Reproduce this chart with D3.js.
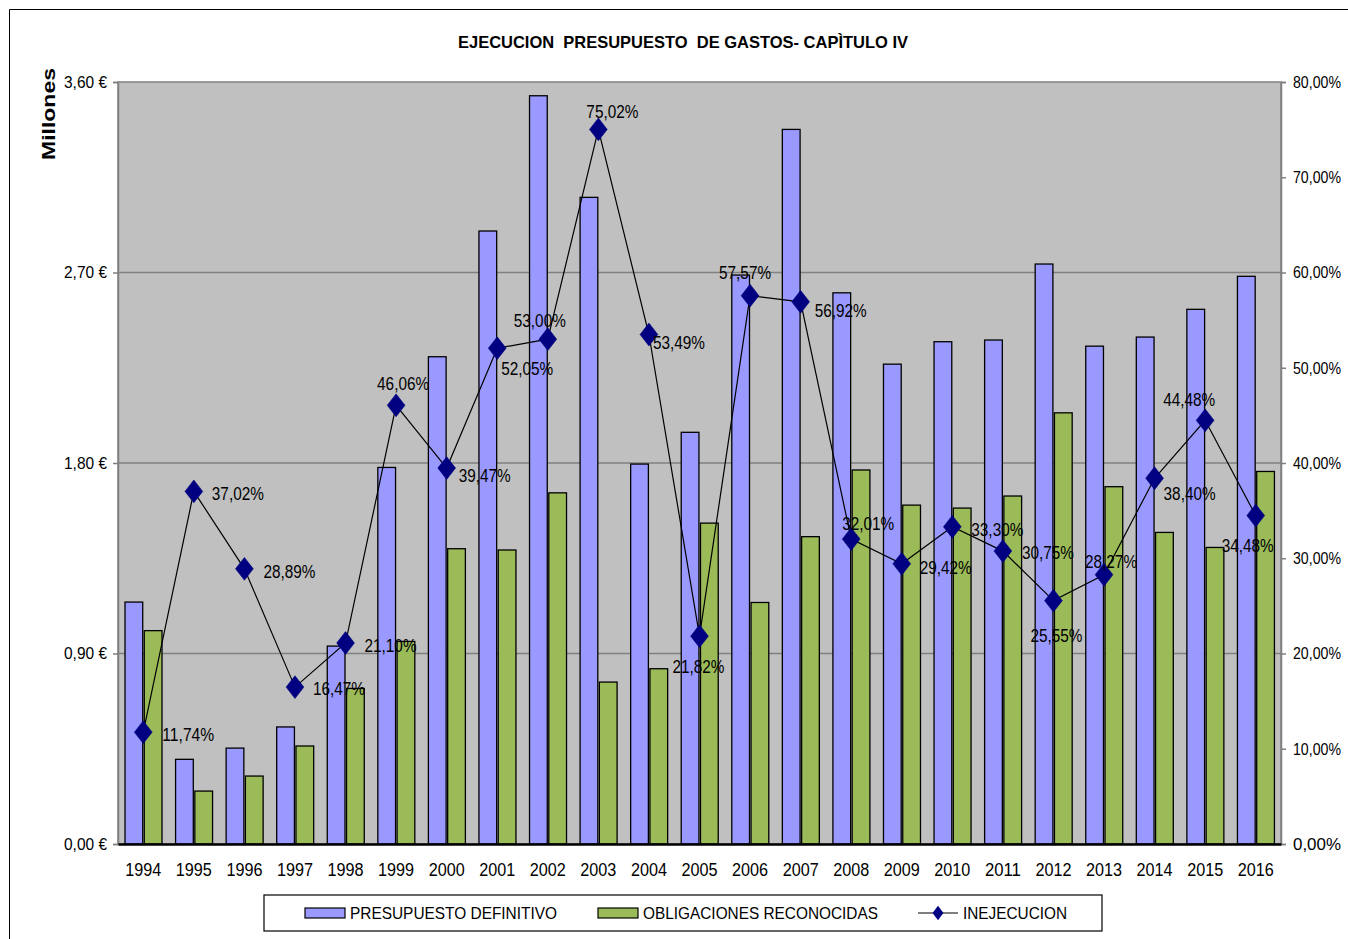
<!DOCTYPE html>
<html>
<head>
<meta charset="utf-8">
<script src="https://cdn.jsdelivr.net/npm/d3@7"></script>
<style>
  html,body{margin:0;padding:0;background:#fff;}
  svg{display:block;font-family:"Liberation Sans",Arial,sans-serif;}
</style>
</head>
<body>
<svg id="chart" width="1348" height="939"></svg>
<script>
// ---------- DATA ----------
const years = ["1994","1995","1996","1997","1998","1999","2000","2001","2002","2003","2004","2005","2006","2007","2008","2009","2010","2011","2012","2013","2014","2015","2016"];
// Millones de euros
const presupuestoDefinitivo = [1.143,0.400,0.453,0.553,0.935,1.779,2.302,2.896,3.535,3.055,1.795,1.945,2.688,3.376,2.604,2.267,2.373,2.381,2.740,2.352,2.395,2.526,2.682];
const obligacionesReconocidas = [1.008,0.250,0.321,0.463,0.735,0.957,1.395,1.389,1.659,0.765,0.828,1.516,1.141,1.452,1.767,1.601,1.587,1.644,2.037,1.688,1.472,1.401,1.760];
// Inejecución (fracción)
const inejecucion = [0.1174,0.3702,0.2889,0.1647,0.2110,0.4606,0.3947,0.5205,0.5300,0.7502,0.5349,0.2182,0.5757,0.5692,0.3201,0.2942,0.3330,0.3075,0.2555,0.2827,0.3840,0.4448,0.3448];
const leftTicks = [0,0.9,1.8,2.7,3.6];
const rightTicks = [0,0.1,0.2,0.3,0.4,0.5,0.6,0.7,0.8];
const seriesNames = ["PRESUPUESTO DEFINITIVO","OBLIGACIONES RECONOCIDAS","INEJECUCION"];
const titleText = "EJECUCION  PRESUPUESTO  DE GASTOS- CAPÌTULO IV";

// label placement offsets (label centre relative to marker), layout only
const labelOffsets = [[45,3],[44,3],[45,3],[44,2],[45,3],[7,-21],[38,8],[30,21],[-8,-18],[14,-17],[30,8],[-1,31],[-5,-23],[40,9],[17,-15],[44,4],[45,3],[45,2],[3,35],[7,-13],[35,16],[-16,-20],[-8,30]];

// ---------- LAYOUT ----------
const svg = d3.select("#chart");
const L = 118, R = 1281, T = 82, B = 844;
const colors = {pres:"#9999ff", obl:"#9bbb59", line:"#000000", marker:"#000080"};

const loc = d3.formatLocale({decimal:",", thousands:".", grouping:[3], currency:[""," €"], percent:"%"});
const fmtEur = v => loc.format(".2f")(v) + " €";
const fmtPct = loc.format(".2%");

const x = d3.scaleBand().domain(years).range([L,R]).paddingInner(0).paddingOuter(0);
const x1 = d3.scaleBand().domain(["pres","obl"]).range([7,44]).paddingInner(0.08);
const y = d3.scaleLinear().domain([0,3.6]).range([B,T]);
const yR = d3.scaleLinear().domain([0,0.8]).range([B,T]);

// outer frame
svg.append("path").attr("d",`M9.5,945 V9.5 H1360`).attr("fill","none").attr("stroke","#000").attr("stroke-width",1);

// title
svg.append("text").attr("x",683).attr("y",48).attr("text-anchor","middle")
  .attr("font-weight","bold").attr("font-size",17).attr("textLength",450).attr("lengthAdjust","spacingAndGlyphs")
  .attr("xml:space","preserve").style("white-space","pre").text(titleText);

// plot background
svg.append("rect").attr("x",L).attr("y",T).attr("width",R-L).attr("height",B-T)
  .attr("fill","#c0c0c0").attr("stroke","#808080").attr("stroke-width",1.5);

// gridlines
svg.append("g").selectAll("line").data(leftTicks.slice(1,-1)).join("line")
  .attr("x1",L).attr("x2",R).attr("y1",d=>y(d)).attr("y2",d=>y(d))
  .attr("stroke","#808080").attr("stroke-width",1.5);

// left axis
const gL = svg.append("g").attr("transform",`translate(${L},0)`)
  .call(d3.axisLeft(y).tickValues(leftTicks).tickFormat(fmtEur).tickSize(5).tickPadding(6));
gL.select(".domain").attr("stroke","#808080").attr("stroke-width",1.5);
gL.selectAll(".tick line").attr("stroke","#808080").attr("stroke-width",1.5);
gL.selectAll(".tick text").attr("font-size",16.5).attr("fill","#000").attr("font-family","Liberation Sans, Arial, sans-serif")
  .attr("textLength",43).attr("lengthAdjust","spacingAndGlyphs");

// right axis
const gR = svg.append("g").attr("transform",`translate(${R},0)`)
  .call(d3.axisRight(yR).tickValues(rightTicks).tickFormat(fmtPct).tickSize(5).tickPadding(7));
gR.select(".domain").attr("stroke","#808080").attr("stroke-width",1.5);
gR.selectAll(".tick line").attr("stroke","#808080").attr("stroke-width",1.5);
gR.selectAll(".tick text").attr("font-size",16.5).attr("fill","#000").attr("font-family","Liberation Sans, Arial, sans-serif")
  .attr("textLength",48).attr("lengthAdjust","spacingAndGlyphs");

// Millones
svg.append("text").attr("transform","translate(55,114) rotate(-90)").attr("text-anchor","middle")
  .attr("font-weight","bold").attr("font-size",18).attr("textLength",92).attr("lengthAdjust","spacingAndGlyphs")
  .text("Millones");

// bars
const bars = svg.append("g");
bars.selectAll("rect.pres").data(years).join("rect").attr("class","pres")
  .attr("x",(d)=>x(d)+x1("pres")).attr("width",x1.bandwidth())
  .attr("y",(d,i)=>y(presupuestoDefinitivo[i])).attr("height",(d,i)=>B-y(presupuestoDefinitivo[i]))
  .attr("fill",colors.pres).attr("stroke","#000").attr("stroke-width",1.3);
bars.selectAll("rect.obl").data(years).join("rect").attr("class","obl")
  .attr("x",(d)=>x(d)+x1("obl")).attr("width",x1.bandwidth())
  .attr("y",(d,i)=>y(obligacionesReconocidas[i])).attr("height",(d,i)=>B-y(obligacionesReconocidas[i]))
  .attr("fill",colors.obl).attr("stroke","#000").attr("stroke-width",1.3);

// category axis
const gX = svg.append("g").attr("transform",`translate(0,${B})`)
  .call(d3.axisBottom(x).tickSize(0).tickPadding(20));
gX.select(".domain").attr("stroke","#000").attr("stroke-width",2.5);
gX.selectAll(".tick text").attr("font-size",17.5).attr("fill","#000").attr("font-family","Liberation Sans, Arial, sans-serif")
  .attr("textLength",36).attr("lengthAdjust","spacingAndGlyphs");

// line
const cx = d => x(d) + x.bandwidth()/2;
const line = d3.line().x((d,i)=>cx(years[i])).y(d=>yR(d));
svg.append("path").datum(inejecucion).attr("d",line).attr("fill","none").attr("stroke",colors.line).attr("stroke-width",1.2);
const diamond = d3.symbol().type(d3.symbolDiamond).size(150);
svg.append("g").selectAll("path").data(inejecucion).join("path")
  .attr("d",diamond).attr("transform",(d,i)=>`translate(${cx(years[i])},${yR(d)}) scale(1.35,1)`)
  .attr("fill",colors.marker).attr("stroke",colors.marker).attr("stroke-width",0.5);

// data labels
svg.append("g").selectAll("text").data(inejecucion).join("text")
  .attr("x",(d,i)=>cx(years[i])+labelOffsets[i][0])
  .attr("y",(d,i)=>yR(d)+labelOffsets[i][1])
  .attr("text-anchor","middle").attr("dominant-baseline","central")
  .attr("font-size",17.5).attr("fill","#000").attr("textLength",52).attr("lengthAdjust","spacingAndGlyphs")
  .text(d=>fmtPct(d));

// legend
const lg = svg.append("g");
lg.append("rect").attr("x",264).attr("y",895).attr("width",838).attr("height",36)
  .attr("fill","#fff").attr("stroke","#000").attr("stroke-width",1.2);
const legY = 913;
lg.append("rect").attr("x",305).attr("y",legY-5).attr("width",40).attr("height",10).attr("fill",colors.pres).attr("stroke","#000").attr("stroke-width",1.2);
lg.append("text").attr("x",350).attr("y",legY).attr("dominant-baseline","central").attr("font-size",17).attr("textLength",207).attr("lengthAdjust","spacingAndGlyphs").text(seriesNames[0]);
lg.append("rect").attr("x",598).attr("y",legY-5).attr("width",40).attr("height",10).attr("fill",colors.obl).attr("stroke","#000").attr("stroke-width",1.2);
lg.append("text").attr("x",643).attr("y",legY).attr("dominant-baseline","central").attr("font-size",17).attr("textLength",235).attr("lengthAdjust","spacingAndGlyphs").text(seriesNames[1]);
lg.append("line").attr("x1",918).attr("x2",958).attr("y1",legY).attr("y2",legY).attr("stroke","#000").attr("stroke-width",1.2);
lg.append("path").attr("d",d3.symbol().type(d3.symbolDiamond).size(60)).attr("transform",`translate(938,${legY}) scale(1.3,1)`).attr("fill",colors.marker);
lg.append("text").attr("x",963).attr("y",legY).attr("dominant-baseline","central").attr("font-size",17).attr("textLength",104).attr("lengthAdjust","spacingAndGlyphs").text(seriesNames[2]);
</script>
</body>
</html>
